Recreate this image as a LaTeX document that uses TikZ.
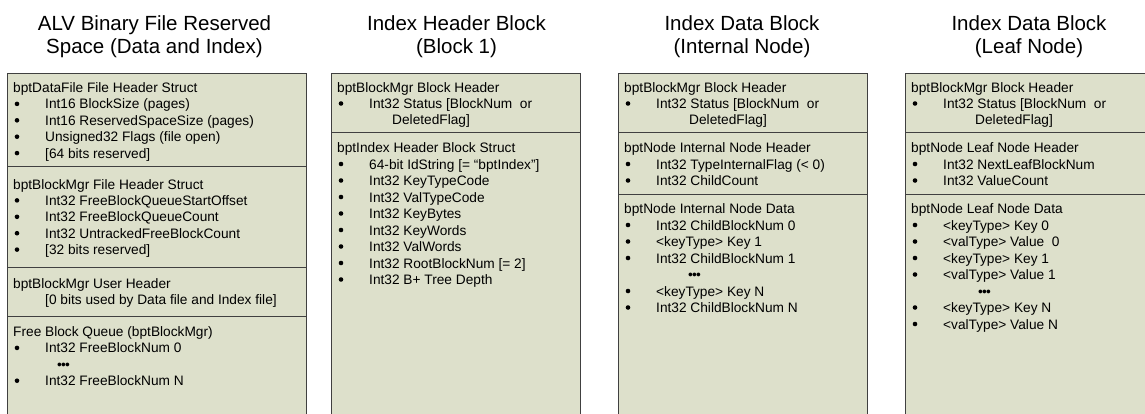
\documentclass[tikz,border=0pt]{standalone}
\usepackage{fontspec}
\setmainfont{Liberation Sans}

\definecolor{blockfill}{HTML}{DDE0CB}
\definecolor{blockline}{HTML}{404040}

\newcommand{\bodysize}{\fontsize{13.7}{16.4}\selectfont}
\newcommand{\etc}{\textbullet\kern-0.8pt\textbullet\kern-0.8pt\textbullet}

\tikzset{
  blockbox/.style={fill=blockfill, draw=blockline, line width=0.9pt},
  divider/.style={draw=blockline, line width=0.9pt},
  blocktitle/.style={font=\fontsize{20.5}{22.5}\selectfont, align=center, inner sep=0pt},
  header/.style={anchor=base west, inner sep=0pt, font=\bodysize},
  field/.style={anchor=base west, inner sep=0pt, font=\bodysize}
}

% block manager header shared by every index block: #1 name prefix, #2 indent of 2nd line
\newcommand{\mgrheader}[2]{%
  \node[header] (#1-hdr) at (6,92.5) {bptBlockMgr Block Header};
  \node[field] (#1-st) at (38,108.5) {Int32 Status [BlockNum\ \ or};
  \node[field] (#1-del) at (38,124.5) {\hspace*{#2}DeletedFlag]};
  \fill (10,103.5) circle (2.3); % bullet
}

\begin{document}
\begin{tikzpicture}[x=1pt, y=-1pt]
    \useasboundingbox (0,0) rectangle (1145,413);
    \clip (0,0) rectangle (1145,413);

    % Reserved space at the start of the file
    \begin{scope}[xshift=7pt]
        \draw[blockbox] (0,73) rectangle (299,430);
        \draw[divider] (0,166) -- (299,166);
        \draw[divider] (0,267) -- (299,267);
        \draw[divider] (0,316) -- (299,316);
        \node[blocktitle] (alv) at (147.5,36.5) {ALV Binary File Reserved\\Space (Data and Index)};

        \node[header] (dfh) at (6,92.5) {bptDataFile File Header Struct};
        \foreach \txt [count=\i] in {{Int16 BlockSize (pages)}, {Int16 ReservedSpaceSize (pages)},
            {Unsigned32 Flags (file open)}, {[64 bits reserved]}}
            \node[field] (dfh-\i) at (38, 92.5+16.4*\i) {\txt};
        \foreach \i in {1,...,4}
            \fill (10, 87.5+16.4*\i) circle (2.3);

        \node[header] (bmf) at (6,189) {bptBlockMgr File Header Struct};
        \foreach \txt [count=\i] in {{Int32 FreeBlockQueueStartOffset}, {Int32 FreeBlockQueueCount},
            {Int32 UntrackedFreeBlockCount}, {[32 bits reserved]}}
            \node[field] (bmf-\i) at (38, 189+16.4*\i) {\txt};
        \foreach \i in {1,...,4}
            \fill (10, 184+16.4*\i) circle (2.3);

        \node[header] (bmu) at (6,288.5) {bptBlockMgr User Header};
        \node[field] (bmu-1) at (38,304.5) {[0 bits used by Data file and Index file]};

        \node[header] (fbq) at (6,336.5) {Free Block Queue (bptBlockMgr)};
        \foreach \txt [count=\i] in {{Int32 FreeBlockNum 0}, {\hspace*{12pt}\etc}, {Int32 FreeBlockNum N}}
            \node[field] (fbq-\i) at (38, 336.5+16.4*\i) {\txt};
        \foreach \i in {1,3}
            \fill (10, 331.5+16.4*\i) circle (2.3);
    \end{scope}

    % Index header block (block 1)
    \begin{scope}[xshift=331pt]
        \draw[blockbox] (0,73) rectangle (249,430);
        \draw[divider] (0,132) -- (249,132);
        \node[blocktitle] (ihb) at (125.5,36.5) {Index Header Block\\(Block 1)};
        \mgrheader{ihb}{23pt}

        \node[header] (ihs) at (6,152.5) {bptIndex Header Block Struct};
        \foreach \txt [count=\i] in {{64-bit IdString [= “bptIndex”]}, {Int32 KeyTypeCode},
            {Int32 ValTypeCode}, {Int32 KeyBytes}, {Int32 KeyWords}, {Int32 ValWords},
            {Int32 RootBlockNum [= 2]}, {Int32 B+ Tree Depth}}
            \node[field] (ihs-\i) at (38, 152.5+16.5*\i) {\txt};
        \foreach \i in {1,...,8}
            \fill (10, 147.5+16.5*\i) circle (2.3);
    \end{scope}

    % Index data block, internal node
    \begin{scope}[xshift=618pt]
        \draw[blockbox] (0,73) rectangle (249,430);
        \draw[divider] (0,132) -- (249,132);
        \draw[divider] (0,194) -- (249,194);
        \node[blocktitle] (inb) at (124,36.5) {Index Data Block\\(Internal Node)};
        \mgrheader{inb}{33pt}

        \node[header] (inh) at (6,152.5) {bptNode Internal Node Header};
        \foreach \txt [count=\i] in {{Int32 TypeInternalFlag (< 0)}, {Int32 ChildCount}}
            \node[field] (inh-\i) at (38, 152.5+16.5*\i) {\txt};
        \foreach \i in {1,2}
            \fill (10, 147.5+16.5*\i) circle (2.3);

        \node[header] (ind) at (6,213.5) {bptNode Internal Node Data};
        \foreach \txt [count=\i] in {{Int32 ChildBlockNum 0}, {<keyType>\ Key 1},
            {Int32 ChildBlockNum 1}, {\hspace*{32pt}\etc}, {<keyType>\ Key N},
            {Int32 ChildBlockNum N}}
            \node[field] (ind-\i) at (38, 213.5+16.5*\i) {\txt};
        \foreach \i in {1,2,3,5,6}
            \fill (10, 208.5+16.5*\i) circle (2.3);
    \end{scope}

    % Index data block, leaf node
    \begin{scope}[xshift=905pt]
        \draw[blockbox] (0,73) rectangle (252,430);
        \draw[divider] (0,132) -- (252,132);
        \draw[divider] (0,194) -- (252,194);
        \node[blocktitle] (lnb) at (124,36.5) {Index Data Block\\(Leaf Node)};
        \mgrheader{lnb}{32pt}

        \node[header] (lnh) at (6,152.5) {bptNode Leaf Node Header};
        \foreach \txt [count=\i] in {{Int32 NextLeafBlockNum}, {Int32 ValueCount}}
            \node[field] (lnh-\i) at (38, 152.5+16.5*\i) {\txt};
        \foreach \i in {1,2}
            \fill (10, 147.5+16.5*\i) circle (2.3);

        \node[header] (lnd) at (6,213.5) {bptNode Leaf Node Data};
        \foreach \txt [count=\i] in {{<keyType> Key 0}, {<valType> Value\ \ 0},
            {<keyType> Key 1}, {<valType> Value 1}, {\hspace*{35pt}\etc},
            {<keyType> Key N}, {<valType> Value N}}
            \node[field] (lnd-\i) at (38, 213.5+16.5*\i) {\txt};
        \foreach \i in {1,2,3,4,6,7}
            \fill (10, 208.5+16.5*\i) circle (2.3);
    \end{scope}
\end{tikzpicture}
\end{document}
